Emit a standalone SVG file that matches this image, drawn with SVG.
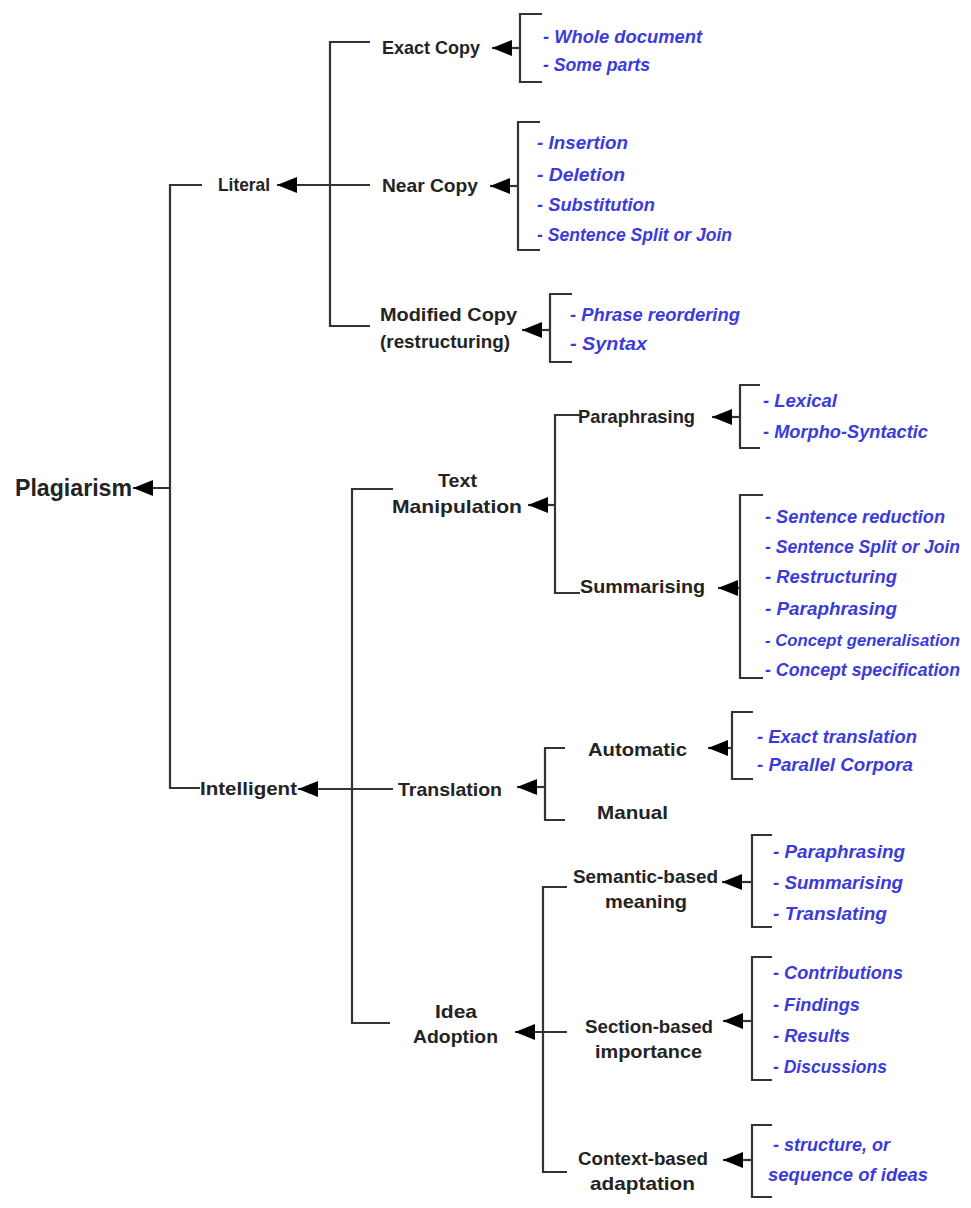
<svg xmlns="http://www.w3.org/2000/svg" width="971" height="1208" viewBox="0 0 971 1208">
<style>
.n{font-family:"Liberation Sans",Arial,sans-serif;font-weight:bold;font-size:19px;fill:#232323}
.i{font-family:"Liberation Sans",Arial,sans-serif;font-weight:bold;font-style:italic;font-size:18px;fill:#3b3bdc}
.c path,.c line{stroke:#333;stroke-width:2.2;fill:none}
</style>
<defs>
<marker id="ah" viewBox="0 0 20 16" refX="20" refY="8" markerUnits="userSpaceOnUse" markerWidth="20" markerHeight="16" orient="auto">
<path d="M0 0 L20 8 L0 16 Z" fill="#000"/>
</marker>
</defs>
<rect width="971" height="1208" fill="#fff"/>
<g id="connectors" class="c">
<path d="M202 185 H170 V788 H200"/>
<line x1="170" y1="488" x2="133" y2="488" marker-end="url(#ah)"/>
<path d="M370 42 H330 V326 H370"/>
<line x1="370" y1="185" x2="277" y2="185" marker-end="url(#ah)"/>
<path d="M542 14 H520 V82 H542"/>
<line x1="520" y1="48" x2="492" y2="48" marker-end="url(#ah)"/>
<path d="M540 122 H518 V250 H540"/>
<line x1="518" y1="186" x2="490" y2="186" marker-end="url(#ah)"/>
<path d="M572 294 H550 V362 H572"/>
<line x1="550" y1="330" x2="522" y2="330" marker-end="url(#ah)"/>
<path d="M393 489 H352 V1023 H390"/>
<line x1="393" y1="789" x2="298" y2="789" marker-end="url(#ah)"/>
<path d="M580 415 H555 V593 H580"/>
<line x1="555" y1="505" x2="528" y2="505" marker-end="url(#ah)"/>
<path d="M760 385 H740 V448 H760"/>
<line x1="740" y1="417" x2="712" y2="417" marker-end="url(#ah)"/>
<path d="M763 495 H740 V678 H763"/>
<line x1="740" y1="588" x2="718" y2="588" marker-end="url(#ah)"/>
<path d="M565 748 H545 V820 H565"/>
<line x1="545" y1="787" x2="517" y2="787" marker-end="url(#ah)"/>
<path d="M753 712 H732 V779 H753"/>
<line x1="732" y1="748" x2="708" y2="748" marker-end="url(#ah)"/>
<path d="M567 887 H543 V1172 H567"/>
<line x1="567" y1="1032" x2="515" y2="1032" marker-end="url(#ah)"/>
<path d="M772 835 H752 V927 H772"/>
<line x1="752" y1="882" x2="722" y2="882" marker-end="url(#ah)"/>
<path d="M772 957 H752 V1080 H772"/>
<line x1="752" y1="1021" x2="723" y2="1021" marker-end="url(#ah)"/>
<path d="M772 1125 H752 V1197 H772"/>
<line x1="752" y1="1160" x2="723" y2="1160" marker-end="url(#ah)"/>
</g>
<g id="plagiarism"><text class="n" x="15" y="496" style="font-size:23px" textLength="117" lengthAdjust="spacingAndGlyphs">Plagiarism</text></g>
<g id="literal"><text class="n" x="218" y="191" textLength="52" lengthAdjust="spacingAndGlyphs">Literal</text></g>
<g id="exact-copy"><text class="n" x="382" y="54" textLength="98" lengthAdjust="spacingAndGlyphs">Exact Copy</text></g>
<g id="exact-copy-items">
<text class="i" x="543" y="43" textLength="159" lengthAdjust="spacingAndGlyphs">- Whole document</text>
<text class="i" x="543" y="71" textLength="107" lengthAdjust="spacingAndGlyphs">- Some parts</text>
</g>
<g id="near-copy"><text class="n" x="382" y="192" textLength="96" lengthAdjust="spacingAndGlyphs">Near Copy</text></g>
<g id="near-copy-items">
<text class="i" x="537" y="149" textLength="91" lengthAdjust="spacingAndGlyphs">- Insertion</text>
<text class="i" x="537" y="181" textLength="88" lengthAdjust="spacingAndGlyphs">- Deletion</text>
<text class="i" x="537" y="211" textLength="118" lengthAdjust="spacingAndGlyphs">- Substitution</text>
<text class="i" x="537" y="241" textLength="195" lengthAdjust="spacingAndGlyphs">- Sentence Split or Join</text>
</g>
<g id="modified-copy">
<text class="n" x="380" y="321" textLength="137" lengthAdjust="spacingAndGlyphs">Modified Copy</text>
<text class="n" x="380" y="348" textLength="130" lengthAdjust="spacingAndGlyphs">(restructuring)</text>
</g>
<g id="modified-copy-items">
<text class="i" x="570" y="321" textLength="170" lengthAdjust="spacingAndGlyphs">- Phrase reordering</text>
<text class="i" x="570" y="350" textLength="77" lengthAdjust="spacingAndGlyphs">- Syntax</text>
</g>
<g id="intelligent"><text class="n" x="200" y="795" textLength="97" lengthAdjust="spacingAndGlyphs">Intelligent</text></g>
<g id="text-manipulation">
<text class="n" x="438" y="487" textLength="39" lengthAdjust="spacingAndGlyphs">Text</text>
<text class="n" x="392" y="513" textLength="130" lengthAdjust="spacingAndGlyphs">Manipulation</text>
</g>
<g id="paraphrasing"><text class="n" x="578" y="423" textLength="117" lengthAdjust="spacingAndGlyphs">Paraphrasing</text></g>
<g id="paraphrasing-items">
<text class="i" x="763" y="407" textLength="74" lengthAdjust="spacingAndGlyphs">- Lexical</text>
<text class="i" x="763" y="438" textLength="165" lengthAdjust="spacingAndGlyphs">- Morpho-Syntactic</text>
</g>
<g id="summarising"><text class="n" x="580" y="593" textLength="125" lengthAdjust="spacingAndGlyphs">Summarising</text></g>
<g id="summarising-items">
<text class="i" x="765" y="523" textLength="180" lengthAdjust="spacingAndGlyphs">- Sentence reduction</text>
<text class="i" x="765" y="553" textLength="195" lengthAdjust="spacingAndGlyphs">- Sentence Split or Join</text>
<text class="i" x="765" y="583" textLength="132" lengthAdjust="spacingAndGlyphs">- Restructuring</text>
<text class="i" x="765" y="615" textLength="132" lengthAdjust="spacingAndGlyphs">- Paraphrasing</text>
<text class="i" x="765" y="646" style="font-size:16.5px" textLength="195" lengthAdjust="spacingAndGlyphs">- Concept generalisation</text>
<text class="i" x="765" y="676" textLength="195" lengthAdjust="spacingAndGlyphs">- Concept specification</text>
</g>
<g id="translation"><text class="n" x="398" y="796" textLength="104" lengthAdjust="spacingAndGlyphs">Translation</text></g>
<g id="automatic"><text class="n" x="588" y="756" textLength="99" lengthAdjust="spacingAndGlyphs">Automatic</text></g>
<g id="automatic-items">
<text class="i" x="757" y="743" textLength="160" lengthAdjust="spacingAndGlyphs">- Exact translation</text>
<text class="i" x="757" y="771" textLength="156" lengthAdjust="spacingAndGlyphs">- Parallel Corpora</text>
</g>
<g id="manual"><text class="n" x="597" y="819" textLength="71" lengthAdjust="spacingAndGlyphs">Manual</text></g>
<g id="idea-adoption">
<text class="n" x="435" y="1018" textLength="42" lengthAdjust="spacingAndGlyphs">Idea</text>
<text class="n" x="413" y="1043" textLength="85" lengthAdjust="spacingAndGlyphs">Adoption</text>
</g>
<g id="semantic-based">
<text class="n" x="573" y="883" textLength="145" lengthAdjust="spacingAndGlyphs">Semantic-based</text>
<text class="n" x="605" y="908" textLength="82" lengthAdjust="spacingAndGlyphs">meaning</text>
</g>
<g id="semantic-items">
<text class="i" x="773" y="858" textLength="132" lengthAdjust="spacingAndGlyphs">- Paraphrasing</text>
<text class="i" x="773" y="889" textLength="130" lengthAdjust="spacingAndGlyphs">- Summarising</text>
<text class="i" x="773" y="920" textLength="114" lengthAdjust="spacingAndGlyphs">- Translating</text>
</g>
<g id="section-based">
<text class="n" x="585" y="1033" textLength="128" lengthAdjust="spacingAndGlyphs">Section-based</text>
<text class="n" x="595" y="1058" textLength="107" lengthAdjust="spacingAndGlyphs">importance</text>
</g>
<g id="section-items">
<text class="i" x="773" y="979" textLength="130" lengthAdjust="spacingAndGlyphs">- Contributions</text>
<text class="i" x="773" y="1011" textLength="87" lengthAdjust="spacingAndGlyphs">- Findings</text>
<text class="i" x="773" y="1042" textLength="77" lengthAdjust="spacingAndGlyphs">- Results</text>
<text class="i" x="773" y="1073" textLength="114" lengthAdjust="spacingAndGlyphs">- Discussions</text>
</g>
<g id="context-based">
<text class="n" x="578" y="1165" textLength="130" lengthAdjust="spacingAndGlyphs">Context-based</text>
<text class="n" x="590" y="1190" textLength="105" lengthAdjust="spacingAndGlyphs">adaptation</text>
</g>
<g id="context-items">
<text class="i" x="773" y="1151" textLength="117" lengthAdjust="spacingAndGlyphs">- structure, or</text>
<text class="i" x="768" y="1181" textLength="160" lengthAdjust="spacingAndGlyphs">sequence of ideas</text>
</g>
</svg>
